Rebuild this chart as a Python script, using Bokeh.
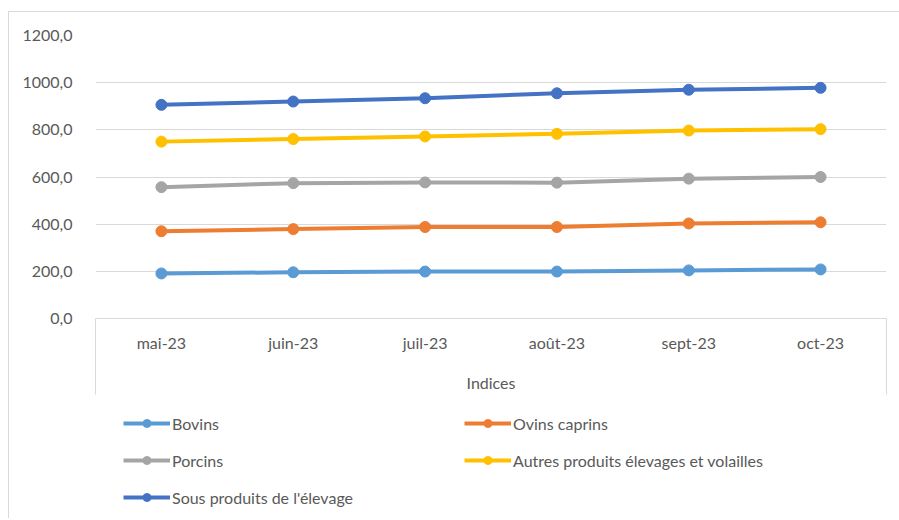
from bokeh.plotting import figure
from bokeh.layouts import column
from bokeh.models import (FactorRange, FixedTicker, Legend, LegendItem, Range1d,
                          LinearAxis)
from bokeh.embed import file_html
from bokeh.resources import INLINE

# ---- data ----
months = ["mai-23", "juin-23", "juil-23", "août-23", "sept-23", "oct-23"]
bovins = [191, 196, 199, 199, 204, 208]
ovins_caprins = [370, 379, 388, 388, 403, 408]
porcins = [557, 574, 577, 576, 593, 600]
autres = [750, 761, 772, 783, 797, 803]
sous_produits = [906, 920, 934, 955, 970, 978]
series_names = ["Bovins", "Ovins caprins", "Porcins",
                "Autres produits élevages et volailles", "Sous produits de l'élevage"]
series_colors = ["#5B9BD5", "#ED7D31", "#A5A5A5", "#FFC000", "#4472C4"]
y_ticks = [0, 200, 400, 600, 800, 1000, 1200]
y_tick_labels = ["0,0", "200,0", "400,0", "600,0", "800,0", "1000,0", "1200,0"]
x_title = "Indices"

FONT = "Lato"
TXT = "#595959"
GRID = "#d9d9d9"

n = len(months)
all_series = [bovins, ovins_caprins, porcins, autres, sous_produits]

# ---------------- main chart ----------------
p = figure(width=890, height=386, output_backend="svg", toolbar_location=None,
           x_range=FactorRange(*months, range_padding=0),
           y_range=Range1d(0, 1200), x_axis_location=None,
           min_border_left=86, min_border_right=13, min_border_top=23, min_border_bottom=80)
p.outline_line_color = None

p.xgrid.grid_line_color = None
p.ygrid.grid_line_color = GRID
p.ygrid.grid_line_width = 1
p.yaxis.ticker = FixedTicker(ticks=y_ticks)
p.yaxis.major_label_overrides = {t: l for t, l in zip(y_ticks, y_tick_labels)}
p.yaxis.axis_line_color = None
p.yaxis.major_tick_line_color = None
p.yaxis.minor_tick_line_color = None
p.yaxis.major_label_standoff = 17
p.yaxis.major_label_text_font = FONT
p.yaxis.major_label_text_font_size = "16px"
p.yaxis.major_label_text_color = TXT

# category axis on the factor range's own (synthetic) coordinates:
# labels at category centres, box sides at the range edges
centres = [i + 0.5 for i in range(n)]
xax = LinearAxis(ticker=FixedTicker(ticks=centres, minor_ticks=[0, n]),
                 major_label_overrides={c: m for c, m in zip(centres, months)},
                 axis_line_color=GRID, major_tick_line_color=None,
                 major_tick_out=0, major_tick_in=0,
                 minor_tick_line_color=GRID, minor_tick_out=76, minor_tick_in=0,
                 major_label_standoff=-62, major_label_text_font=FONT,
                 major_label_text_font_size="16px", major_label_text_color=TXT,
                 axis_label=x_title, axis_label_standoff=18, axis_label_text_font=FONT,
                 axis_label_text_font_size="16px", axis_label_text_font_style="normal",
                 axis_label_text_color=TXT)
p.add_layout(xax, "below")

for name, vals, col in zip(series_names, all_series, series_colors):
    p.line(months, vals, line_color=col, line_width=4)
    p.scatter(months, vals, size=11, fill_color=col, line_color=col)

# ---------------- legend strip ----------------
q = figure(width=890, height=120, output_backend="svg", toolbar_location=None,
           x_range=FactorRange(*months, range_padding=0),
           y_range=Range1d(-2000, -1000), x_axis_location=None, y_axis_location=None,
           min_border_left=0, min_border_right=0, min_border_top=0, min_border_bottom=0)
q.outline_line_color = None
q.xgrid.grid_line_color = None
q.ygrid.grid_line_color = None

items = []
for name, vals, col in zip(series_names, all_series, series_colors):
    r1 = q.line(months, vals, line_color=col, line_width=4)
    r2 = q.scatter(months, vals, size=11, fill_color=col, line_color=col)
    items.append(LegendItem(label=name, renderers=[r1, r2]))

def mk_legend(its, loc):
    return Legend(items=its, location=loc, orientation="vertical",
                  glyph_width=47, glyph_height=20, label_height=20, label_standoff=2,
                  spacing=17, padding=0, margin=0, background_fill_alpha=0,
                  border_line_color=None, label_text_font=FONT,
                  label_text_font_size="16px", label_text_color=TXT)

q.add_layout(mk_legend([items[0], items[2], items[4]], (28, 11)), "center")
q.add_layout(mk_legend([items[1], items[3]], (369, 48)), "center")

lay = column(p, q, spacing=0)
lay.styles = {"margin-left": "8px", "margin-top": "11px",
              "border-left": "1px solid #d9d9d9", "border-top": "1px solid #d9d9d9"}

open("out.html", "w").write(file_html(lay, INLINE))
